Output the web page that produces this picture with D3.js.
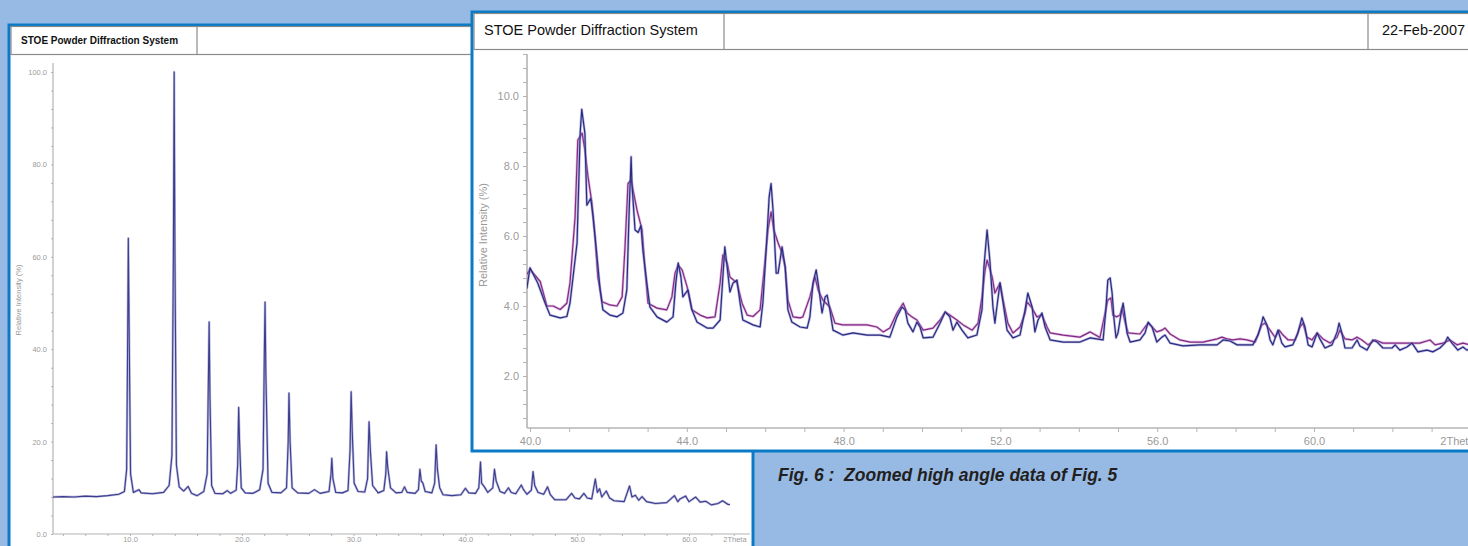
<!DOCTYPE html>
<html>
<head>
<meta charset="utf-8">
<script src="https://cdn.jsdelivr.net/npm/d3@7"></script>
<style>
  html, body { margin: 0; padding: 0; background: #97bae4; }
  svg { display: block; }
  text { font-family: "Liberation Sans", Arial, sans-serif; }
</style>
</head>
<body>
<div id="chart"></div>
<script>
// overview pattern, 2Theta vs relative intensity (%)
var overviewPattern = [
  [3.0, 8.0], [4.0, 8.1], [5.0, 8.0], [6.0, 8.2], [7.0, 8.1], [8.0, 8.3], [9.0, 8.6], [9.5, 9.2],
  [9.7, 14], [9.8, 45], [9.85, 64.0], [9.92, 45], [10.05, 13], [10.3, 9.0], [10.8, 9.6], [11.0, 8.9],
  [12.0, 8.7], [13.0, 9.0], [13.5, 10.5], [13.75, 17], [13.88, 60], [13.95, 100], [14.02, 60], [14.15, 15],
  [14.4, 10.2], [14.8, 9.3], [15.2, 10.3], [15.5, 8.8], [16.0, 8.3], [16.6, 9.2], [16.9, 13], [17.02, 35],
  [17.08, 45.9], [17.15, 30], [17.3, 10.5], [17.6, 8.8], [18.3, 8.7], [18.7, 9.4], [19.0, 8.8], [19.5, 9.5],
  [19.63, 15], [19.72, 27.4], [19.8, 20], [19.95, 10], [20.3, 8.9], [21.0, 8.8], [21.6, 9.6], [21.9, 14],
  [22.02, 40], [22.08, 50.2], [22.15, 35], [22.35, 11], [22.7, 9.0], [23.5, 8.9], [24.0, 10], [24.15, 20],
  [24.22, 30.5], [24.32, 20], [24.5, 10], [25.0, 8.9], [26.0, 8.8], [26.5, 9.6], [27.0, 8.8], [27.8, 9.2],
  [27.98, 13], [28.05, 16.4], [28.15, 12], [28.4, 9.0], [29.0, 8.9], [29.5, 9.4], [29.68, 18], [29.78, 30.8],
  [29.88, 22], [30.05, 11], [30.4, 9.2], [31.0, 9.1], [31.25, 12], [31.38, 24.3], [31.5, 18], [31.7, 10.5],
  [32.2, 8.9], [32.7, 9.4], [32.88, 13], [32.95, 17.8], [33.05, 14.5], [33.3, 10], [33.8, 8.9], [34.3, 9.0],
  [34.55, 10.2], [34.8, 9.0], [35.5, 8.8], [35.8, 9.6], [35.93, 14.0], [36.05, 11.5], [36.2, 11.0], [36.4, 9.2],
  [37.0, 8.9], [37.25, 11], [37.38, 19.3], [37.5, 14], [37.7, 10], [38.0, 8.5], [38.8, 8.3], [39.6, 8.5],
  [40.0, 9.9], [40.3, 8.9], [40.9, 8.8], [41.2, 10], [41.35, 15.6], [41.45, 11], [41.7, 10.2], [42.0, 9.0],
  [42.45, 10], [42.6, 14.0], [42.75, 11.5], [43.1, 9.2], [43.5, 8.8], [43.85, 10.0], [44.1, 9.0], [44.5, 8.7],
  [45.0, 10.6], [45.2, 9.6], [45.5, 8.6], [45.9, 9.5], [46.05, 13.5], [46.2, 10.5], [46.5, 9.0], [47.0, 8.6],
  [47.35, 10.2], [47.6, 8.5], [48.0, 7.4], [49.0, 7.4], [49.5, 8.8], [49.8, 7.8], [50.2, 7.6], [50.6, 8.8],
  [50.9, 7.8], [51.3, 7.6], [51.62, 11.9], [51.8, 9.0], [52.0, 9.8], [52.2, 8.0], [52.6, 9.3], [52.9, 7.8],
  [53.3, 7.2], [54.2, 7.0], [54.68, 10.4], [54.9, 8.0], [55.2, 8.4], [55.5, 7.3], [55.8, 8.1], [56.2, 7.0],
  [57.0, 6.6], [58.0, 6.8], [58.7, 8.3], [59.0, 7.0], [59.2, 7.6], [59.7, 8.2], [60.0, 7.0], [60.6, 8.0],
  [61.0, 6.9], [61.5, 7.1], [62.0, 6.3], [62.6, 6.6], [63.0, 7.2], [63.5, 6.4], [64.3, 6.3], [65.3, 6.1]
];

// zoomed high angle part, sample 1 (dark blue)
var zoomBlue = [
  [39.92, 4.5], [40.0, 5.09], [40.2, 4.65], [40.38, 4.1], [40.51, 3.74], [40.77, 3.66], [40.94, 3.7], [41.02, 4.08],
  [41.2, 5.8], [41.28, 8.94], [41.32, 9.62], [41.4, 8.94], [41.45, 6.88], [41.55, 7.08], [41.61, 6.54], [41.71, 5.4],
  [41.79, 4.46], [41.86, 3.89], [42.04, 3.74], [42.22, 3.69], [42.37, 3.8], [42.47, 4.46], [42.53, 6.74], [42.58, 8.26],
  [42.6, 7.5], [42.68, 6.17], [42.76, 6.1], [42.83, 6.3], [42.88, 5.6], [42.98, 4.66], [43.06, 3.97], [43.24, 3.69],
  [43.49, 3.54], [43.65, 3.69], [43.72, 4.66], [43.78, 5.23], [43.85, 4.83], [43.9, 4.26], [44.03, 4.46], [44.13, 3.89],
  [44.26, 3.54], [44.52, 3.37], [44.67, 3.37], [44.85, 3.6], [44.92, 4.83], [44.97, 5.69], [45.03, 5.11], [45.1, 4.4],
  [45.18, 4.66], [45.28, 4.74], [45.36, 4.08], [45.43, 3.6], [45.69, 3.46], [45.87, 3.4], [45.94, 4.08], [46.05, 6.08],
  [46.1, 7.11], [46.15, 7.5], [46.2, 6.74], [46.28, 4.94], [46.33, 4.94], [46.43, 5.69], [46.51, 5.11], [46.58, 3.89],
  [46.68, 3.54], [46.89, 3.4], [47.07, 3.37], [47.14, 3.69], [47.22, 4.66], [47.3, 5.03], [47.35, 4.66], [47.45, 3.8],
  [47.53, 4.26], [47.58, 4.31], [47.65, 3.89], [47.73, 3.31], [47.98, 3.17], [48.24, 3.23], [48.6, 3.17], [48.93, 3.17],
  [49.18, 3.11], [49.36, 3.69], [49.49, 3.97], [49.57, 3.89], [49.64, 3.51], [49.77, 3.26], [49.87, 3.54], [49.95, 3.4],
  [50.03, 3.09], [50.28, 3.11], [50.46, 3.51], [50.59, 3.83], [50.71, 3.69], [50.79, 3.31], [50.89, 3.54], [51.02, 3.31],
  [51.17, 3.09], [51.4, 3.17], [51.53, 3.89], [51.58, 5.11], [51.66, 6.17], [51.73, 5.31], [51.81, 3.97], [51.86, 3.51],
  [51.91, 3.97], [51.99, 4.66], [52.07, 4.08], [52.17, 3.31], [52.32, 3.09], [52.5, 3.17], [52.63, 3.89], [52.7, 4.37],
  [52.81, 3.97], [52.88, 3.26], [52.96, 3.6], [53.06, 3.8], [53.14, 3.4], [53.27, 3.03], [53.6, 2.97], [54.03, 2.97],
  [54.29, 3.09], [54.62, 3.03], [54.69, 3.89], [54.74, 4.74], [54.8, 4.8], [54.85, 4.37], [54.9, 3.6], [54.95, 3.09],
  [55.0, 3.23], [55.08, 3.8], [55.13, 4.08], [55.18, 3.69], [55.23, 3.23], [55.31, 2.97], [55.56, 3.03], [55.69, 3.23],
  [55.77, 3.54], [55.87, 3.4], [55.99, 2.97], [56.12, 3.11], [56.2, 3.17], [56.33, 2.94], [56.66, 2.86], [57.09, 2.89],
  [57.53, 2.89], [57.68, 3.03], [57.86, 3.0], [58.04, 2.89], [58.29, 2.89], [58.44, 2.89], [58.57, 3.17], [58.67, 3.54],
  [58.7, 3.69], [58.8, 3.46], [58.88, 3.03], [58.95, 2.89], [59.08, 3.31], [59.18, 2.94], [59.26, 2.83], [59.46, 2.89],
  [59.59, 3.23], [59.69, 3.66], [59.77, 3.4], [59.85, 2.89], [59.95, 2.83], [60.08, 3.23], [60.15, 3.06], [60.28, 2.8],
  [60.46, 2.89], [60.59, 3.26], [60.64, 3.51], [60.71, 3.23], [60.79, 2.8], [60.97, 2.8], [61.1, 3.03], [61.17, 2.86],
  [61.35, 2.74], [61.5, 3.03], [61.61, 2.97], [61.76, 2.8], [61.99, 2.8], [62.07, 2.89], [62.19, 2.74], [62.37, 2.83],
  [62.5, 2.94], [62.65, 2.69], [62.88, 2.74], [63.03, 2.69], [63.21, 2.8], [63.34, 2.94], [63.41, 3.11], [63.52, 2.94],
  [63.67, 2.74], [63.8, 2.83], [63.9, 2.74], [63.98, 2.78]
];

// zoomed high angle part, sample 2 (purple)
var zoomPurple = [
  [39.92, 4.9], [40.0, 5.05], [40.26, 4.7], [40.43, 4.0], [40.59, 4.0], [40.77, 3.9], [40.94, 4.08], [41.02, 4.66],
  [41.15, 6.54], [41.22, 8.74], [41.33, 8.94], [41.4, 8.46], [41.48, 7.69], [41.58, 6.94], [41.66, 5.97], [41.73, 4.83],
  [41.84, 4.12], [42.04, 4.03], [42.22, 4.0], [42.35, 4.26], [42.42, 5.6], [42.5, 7.5], [42.58, 7.6], [42.63, 7.31],
  [42.73, 6.74], [42.86, 6.17], [42.93, 5.11], [43.01, 4.08], [43.24, 3.94], [43.49, 3.89], [43.62, 4.26], [43.7, 4.94],
  [43.78, 5.17], [43.88, 5.03], [44.01, 4.54], [44.13, 3.89], [44.34, 3.74], [44.52, 3.66], [44.72, 3.69], [44.85, 4.66],
  [44.92, 5.46], [45.03, 5.23], [45.1, 4.83], [45.28, 4.66], [45.41, 4.08], [45.54, 3.74], [45.69, 3.7], [45.87, 3.89],
  [45.99, 5.23], [46.07, 6.17], [46.15, 6.69], [46.22, 6.17], [46.33, 5.8], [46.43, 5.51], [46.51, 5.11], [46.58, 4.17],
  [46.71, 3.69], [46.89, 3.66], [46.96, 3.69], [47.14, 4.26], [47.27, 4.83], [47.35, 4.46], [47.47, 4.17], [47.65, 3.97],
  [47.78, 3.51], [47.98, 3.46], [48.34, 3.46], [48.6, 3.46], [48.85, 3.4], [49.01, 3.26], [49.18, 3.37], [49.36, 3.8],
  [49.52, 4.08], [49.62, 3.8], [49.74, 3.69], [49.87, 3.6], [50.03, 3.31], [50.28, 3.37], [50.46, 3.6], [50.59, 3.83],
  [50.71, 3.74], [50.89, 3.6], [51.05, 3.46], [51.28, 3.31], [51.43, 3.51], [51.53, 4.26], [51.61, 5.03], [51.66, 5.31],
  [51.79, 4.83], [51.86, 4.37], [51.99, 4.66], [52.07, 4.17], [52.19, 3.51], [52.32, 3.23], [52.5, 3.4], [52.63, 3.8],
  [52.68, 4.12], [52.81, 3.94], [52.93, 3.69], [53.06, 3.74], [53.19, 3.4], [53.27, 3.23], [53.6, 3.17], [54.03, 3.11],
  [54.29, 3.26], [54.54, 3.1], [54.67, 3.8], [54.74, 4.17], [54.82, 4.23], [54.87, 3.74], [54.97, 3.69], [55.05, 3.74],
  [55.1, 3.94], [55.18, 3.54], [55.26, 3.23], [55.56, 3.2], [55.69, 3.4], [55.77, 3.51], [55.87, 3.4], [55.99, 3.26],
  [56.12, 3.31], [56.2, 3.37], [56.33, 3.2], [56.58, 3.03], [56.84, 2.97], [57.17, 2.97], [57.53, 3.06], [57.65, 3.11],
  [57.78, 3.06], [57.93, 3.03], [58.11, 3.06], [58.29, 3.03], [58.5, 2.97], [58.57, 3.17], [58.67, 3.46], [58.75, 3.51],
  [58.88, 3.31], [59.01, 3.1], [59.11, 3.31], [59.21, 3.17], [59.34, 3.03], [59.52, 3.03], [59.64, 3.4], [59.72, 3.51],
  [59.82, 3.11], [59.95, 3.03], [60.08, 3.23], [60.23, 3.06], [60.41, 2.94], [60.59, 3.11], [60.66, 3.31], [60.79, 3.06],
  [60.97, 3.03], [61.1, 3.11], [61.22, 3.03], [61.38, 2.89], [61.56, 3.03], [61.76, 2.94], [62.02, 2.94], [62.27, 2.94],
  [62.5, 2.94], [62.7, 2.94], [62.96, 3.03], [63.09, 2.89], [63.29, 2.94], [63.47, 3.03], [63.65, 2.89], [63.8, 2.94],
  [63.98, 2.89]
];

var headerTitle = "STOE Powder Diffraction System";
var headerDate = "22-Feb-2007";
var yTitle = "Relative Intensity (%)";
var xTitle = "2Theta";
var caption = "Fig. 6 :  Zoomed high angle data of Fig. 5";

var overviewXTicks = d3.range(4, 65, 2);
var overviewYTicks = d3.range(0, 101, 4);
var zoomXTicks = d3.range(40, 65, 1);
var zoomYTicks = d3.range(0.8, 11.3, 0.4);

var W = 1468, H = 546;
var panelBlue = "#0b7ac6", gridGrey = "#8a8a8a", axisGrey = "#b4b4b4", labelGrey = "#9a9a9a";

var svg = d3.select("#chart").append("svg")
    .attr("width", W)
    .attr("height", H);

svg.append("rect").attr("width", W).attr("height", H).attr("fill", "#97bae4");

// draws a STOE style panel with header row and a plot of the given series
function drawPanel(p) {
    var g = svg.append("g");

    g.append("rect")
        .attr("x", p.x).attr("y", p.y)
        .attr("width", p.w).attr("height", p.h)
        .attr("fill", "white")
        .attr("stroke", panelBlue)
        .attr("stroke-width", 3);

    // header row
    g.append("rect")
        .attr("x", p.x + 2).attr("y", p.y + 1.5)
        .attr("width", p.w).attr("height", p.headH)
        .attr("fill", "none")
        .attr("stroke", gridGrey)
        .attr("stroke-width", 1.2);
    g.append("line")
        .attr("x1", p.divX).attr("x2", p.divX)
        .attr("y1", p.y + 1.5).attr("y2", p.y + 1.5 + p.headH)
        .attr("stroke", gridGrey).attr("stroke-width", 1.2);
    g.append("text")
        .attr("x", p.titleX).attr("y", p.titleY)
        .style("font-size", p.titleSize + "px")
        .style("font-weight", p.titleWeight)
        .attr("fill", "#111")
        .text(headerTitle);
    if (p.dateX) {
        g.append("line")
            .attr("x1", p.dateDivX).attr("x2", p.dateDivX)
            .attr("y1", p.y + 1.5).attr("y2", p.y + 1.5 + p.headH)
            .attr("stroke", gridGrey).attr("stroke-width", 1.2);
        g.append("text")
            .attr("x", p.dateX).attr("y", p.titleY)
            .style("font-size", p.titleSize + "px")
            .style("font-weight", p.titleWeight)
            .attr("fill", "#111")
            .text(headerDate);
    }

    var x = d3.scaleLinear().domain(p.xDomain).range(p.xRange);
    var y = d3.scaleLinear().domain(p.yDomain).range(p.yRange);

    var clipId = "clip" + p.id;
    g.append("clipPath").attr("id", clipId)
        .append("rect")
        .attr("x", p.plot[0]).attr("y", p.plot[1])
        .attr("width", p.plot[2] - p.plot[0]).attr("height", p.plot[3] - p.plot[1]);

    // x axis
    var xAxis = d3.axisBottom(x)
        .tickValues(p.xTicks)
        .tickSize(p.tick)
        .tickSizeOuter(0)
        .tickPadding(p.xPad)
        .tickFormat(function(d) {
            if (d === 64) return xTitle;
            return (d % p.xLabelEvery === 0) ? d.toFixed(1) : "";
        });
    var xg = g.append("g")
        .attr("transform", "translate(0," + p.plot[3] + ")")
        .call(xAxis);
    xg.select(".domain").attr("d", "M" + p.plot[0] + ",0H" + (p.plot[2] + 20));
    xg.selectAll(".tick").filter(function(d) { return d === 64; })
        .select("text").attr("text-anchor", "start").attr("dx", p.xTitleDx);

    // y axis
    var yAxis = d3.axisLeft(y)
        .tickValues(p.yTicks)
        .tickSize(p.tick)
        .tickSizeOuter(0)
        .tickPadding(p.yPad)
        .tickFormat(function(d) {
            var r = Math.round(d * 10) / 10;
            return (Math.abs(r / p.yLabelEvery - Math.round(r / p.yLabelEvery)) < 1e-6) ? r.toFixed(1) : "";
        });
    var yg = g.append("g")
        .attr("transform", "translate(" + p.plot[0] + ",0)")
        .call(yAxis);
    yg.select(".domain").attr("d", "M0," + p.plot[1] + "V" + p.plot[3]);

    [xg, yg].forEach(function(a) {
        a.selectAll(".domain").attr("stroke", axisGrey).attr("stroke-width", p.axisW);
        a.selectAll(".tick line").attr("stroke", axisGrey).attr("stroke-width", 1);
        a.selectAll(".tick text")
            .attr("fill", labelGrey)
            .style("font-size", p.tickSize + "px")
            .style("font-family", "'Liberation Sans', Arial, sans-serif");
    });

    g.append("text")
        .attr("transform", "translate(" + p.yTitleX + "," + p.yTitleY + ") rotate(-90)")
        .attr("text-anchor", "middle")
        .attr("fill", labelGrey)
        .style("font-size", p.tickSize + "px")
        .text(yTitle);

    var line = d3.line()
        .x(function(d) { return x(d[0]); })
        .y(function(d) { return y(d[1]); });

    var plotG = g.append("g").attr("clip-path", "url(#" + clipId + ")");
    p.series.forEach(function(s) {
        plotG.append("path")
            .datum(s.data)
            .attr("d", line)
            .attr("fill", "none")
            .attr("stroke", s.halo)
            .attr("stroke-width", p.haloW)
            .attr("stroke-linejoin", "round");
        plotG.append("path")
            .datum(s.data)
            .attr("d", line)
            .attr("fill", "none")
            .attr("stroke", s.color)
            .attr("stroke-width", p.lineW)
            .attr("stroke-linejoin", "round");
    });
}

// left: full pattern
drawPanel({
    id: "A", x: 9, y: 25, w: 744, h: 540, headH: 28, divX: 197,
    titleX: 21, titleY: 44, titleSize: 10, titleWeight: "bold",
    xDomain: [10, 60], xRange: [130, 689],
    yDomain: [0, 100], yRange: [534, 72],
    plot: [53, 63, 730, 534],
    xTicks: overviewXTicks, yTicks: overviewYTicks,
    xLabelEvery: 10, yLabelEvery: 20,
    tick: 2, xPad: 1, yPad: 4, xTitleDx: -11, axisW: 1.2, tickSize: 7.5,
    yTitleX: 21, yTitleY: 300,
    haloW: 2.4, lineW: 1.1,
    series: [
        { data: overviewPattern, color: "#3c3c90", halo: "rgba(130,130,190,0.55)" }
    ]
});

// right: zoomed high angle data
drawPanel({
    id: "B", x: 472, y: 12, w: 1010, h: 439, headH: 36, divX: 724,
    titleX: 484, titleY: 35, titleSize: 14.5, titleWeight: "normal",
    dateDivX: 1368, dateX: 1382,
    xDomain: [40, 60], xRange: [530, 1314],
    yDomain: [2, 10], yRange: [376, 96],
    plot: [527, 54, 1468, 428],
    xTicks: zoomXTicks, yTicks: zoomYTicks,
    xLabelEvery: 4, yLabelEvery: 2,
    tick: 4, xPad: 5, yPad: 4, xTitleDx: -31, axisW: 1.6, tickSize: 11,
    yTitleX: 487, yTitleY: 235,
    haloW: 2.6, lineW: 1.2,
    series: [
        { data: zoomPurple, color: "#822a86", halo: "rgba(200,140,200,0.6)" },
        { data: zoomBlue, color: "#2b2b80", halo: "rgba(130,130,200,0.55)" }
    ]
});

svg.append("text")
    .attr("x", 778).attr("y", 481)
    .attr("fill", "#231f20")
    .style("font-size", "17.5px")
    .style("font-weight", "bold")
    .style("font-style", "italic")
    .style("white-space", "pre")
    .text(caption);
</script>
</body>
</html>
